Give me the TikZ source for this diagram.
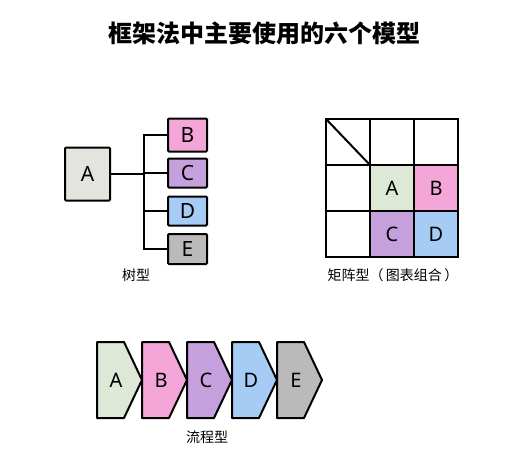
\documentclass[tikz,border=0pt]{standalone}
\usepackage{fontspec}
\setmainfont{Noto Sans}
\newfontfamily\cjk{Noto Sans CJK SC}
\usepackage{xcolor}
\usepackage{tikz}
\usetikzlibrary{positioning}

\definecolor{cA}{HTML}{DDE8D6}
\definecolor{cAg}{HTML}{E2E4DE}
\definecolor{cB}{HTML}{F4A6D8}
\definecolor{cC}{HTML}{C6A0DC}
\definecolor{cD}{HTML}{A6CBF4}
\definecolor{cE}{HTML}{BABABA}

\begin{document}
\begin{tikzpicture}[x=1pt,y=-1pt,
	box/.style={draw,line width=2pt,rounded corners=1pt,inner sep=0pt,font=\fontsize{21}{21}\selectfont},
	cell/.style={draw,line width=2pt,outer sep=0pt,minimum width=44pt,minimum height=46pt,inner sep=0pt,font=\fontsize{20}{20}\selectfont},
	caption/.style={font=\cjk\fontsize{14}{14}\selectfont},
	link/.style={line width=2pt}]
	
	\useasboundingbox (0,0) rectangle (510,458);
	
	%title
	\node[font=\cjk\bfseries\fontsize{24}{24}\selectfont] (title) at (264,33) {框架法中主要使用的六个模型};
	
	%tree
	\node[box,fill=cAg,minimum width=45pt,minimum height=53pt] (A) at (87.5,174) {A};
	\node[box,fill=cB,minimum width=39pt,minimum height=33pt] (B) at (187.5,135) {B};
	\node[box,fill=cC,minimum width=39pt,minimum height=29pt] (C) at (187.5,173) {C};
	\node[box,fill=cD,minimum width=39pt,minimum height=29pt] (D) at (187.5,211) {D};
	\node[box,fill=cE,minimum width=39pt,minimum height=30pt] (E) at (187.5,249) {E};
	\coordinate (trunk) at (144,135);
	
	\draw[link] (B.west) -| (trunk |- E.west) -- (E.west);
	\draw[link] (C.west) -- (C.west -| trunk);
	\draw[link] (D.west) -- (D.west -| trunk);
	\draw[link] (A.east) -- (A.east -| trunk);
	
	\node[caption] (treelabel) at (136,275) {树型};
	
	%matrix
	\node[cell] (m11) at (348,142) {};
	\node[cell] (m12) [right=0pt of m11] {};
	\node[cell] (m13) [right=0pt of m12] {};
	\node[cell] (m21) [below=0pt of m11] {};
	\node[cell,fill=cA] (mA) [right=0pt of m21] {A};
	\node[cell,fill=cB] (mB) [right=0pt of mA] {B};
	\node[cell] (m31) [below=0pt of m21] {};
	\node[cell,fill=cC] (mC) [right=0pt of m31] {C};
	\node[cell,fill=cD] (mD) [right=0pt of mC] {D};
	\draw[link] (m11.north west) -- (m11.south east);
	
	\node[caption] (matrixlabel) at (393,275) {矩阵型（\,图表组合\,）};
	
	%flow
	\foreach \l/\c [count=\i from 0] in {A/cA,B/cB,C/cC,D/cD,E/cE}{
		\pgfmathsetmacro{\xl}{97+45*\i}
		\draw[link,fill=\c,line join=round] (\xl,342) -- ++(27,0) -- ++(18,38) -- ++(-18,38) -- ++(-27,0) -- cycle;
		\node[font=\fontsize{20}{20}\selectfont] (f\l) at (\xl+19,380) {\l};
	}
	
	\node[caption] (flowlabel) at (207,437) {流程型};
	
\end{tikzpicture}
\end{document}
